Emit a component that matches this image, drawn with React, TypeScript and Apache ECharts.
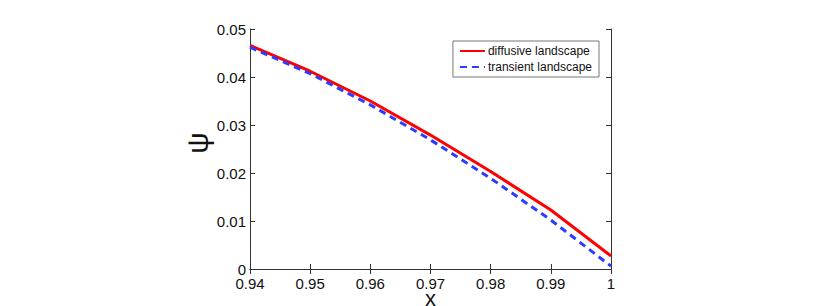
import React, { useEffect, useRef } from "react";
import * as echarts from "echarts";

const xValues = [0.94, 0.95, 0.96, 0.97, 0.98, 0.99, 1.0];
const diffusive = [0.0466, 0.0412, 0.035, 0.0279, 0.0203, 0.0123, 0.0027];
const transient = [0.0462, 0.0407, 0.0342, 0.0269, 0.0189, 0.0102, 0.0006];
const seriesNames = ["diffusive landscape", "transient landscape"];

const FONT = "Liberation Sans";

export default function App() {
  const ref = useRef<HTMLDivElement>(null);
  useEffect(() => {
    if (!ref.current) return;
    const chart = echarts.init(ref.current, null, { renderer: "svg" });
    const axisLine = { show: true, lineStyle: { color: "#333", width: 1 } };
    const tick = { show: true, inside: true, length: 5, lineStyle: { color: "#333" } };
    chart.setOption({
      animation: false,
      backgroundColor: "#fff",
      grid: { left: 250, right: 219, top: 29, bottom: 37, outerBoundsMode: "none", containLabel: false },
      legend: {
        orient: "vertical",
        right: 231,
        top: 41,
        data: seriesNames,
        itemWidth: 25,
        itemHeight: 12,
        itemGap: 4,
        padding: [4, 7, 4, 6],
        borderColor: "#777",
        borderWidth: 1,
        backgroundColor: "#fff",
        itemStyle: { opacity: 0, borderWidth: 0 },
        textStyle: { fontFamily: FONT, fontSize: 12, lineHeight: 12, color: "#111", padding: [0, 0, 0, -2] },
      },
      xAxis: [
        {
          type: "value",
          min: 0.94,
          max: 1,
          interval: 0.01,
          name: "x",
          nameLocation: "middle",
          nameGap: 22,
          nameMoveOverlap: false,
          nameTextStyle: { fontFamily: FONT, fontSize: 22, lineHeight: 14, color: "#111" },
          axisLine,
          axisTick: tick,
          splitLine: { show: false },
          axisLabel: {
            fontFamily: FONT,
            fontSize: 15,
            lineHeight: 14,
            color: "#111",
            margin: 7,
            formatter: (v: number) => String(Number(v.toFixed(2))),
          },
        },
        {
          type: "value",
          position: "top",
          min: 0.94,
          max: 1,
          interval: 0.01,
          axisLine,
          axisTick: tick,
          splitLine: { show: false },
          axisLabel: { show: false },
        },
      ],
      yAxis: [
        {
          type: "value",
          min: 0,
          max: 0.05,
          interval: 0.01,
          name: "ψ",
          nameLocation: "middle",
          nameRotate: 90,
          nameGap: 38,
          nameMoveOverlap: false,
          nameTextStyle: { fontFamily: FONT, fontSize: 30, color: "#111", padding: [0, 0, 0, 12] },
          axisLine,
          axisTick: tick,
          splitLine: { show: false },
          axisLabel: {
            fontFamily: FONT,
            fontSize: 15,
            lineHeight: 12,
            color: "#111",
            margin: 4,
            formatter: (v: number) => (v === 0 ? "0" : v.toFixed(2)),
          },
        },
        {
          type: "value",
          position: "right",
          min: 0,
          max: 0.05,
          interval: 0.01,
          axisLine,
          axisTick: tick,
          splitLine: { show: false },
          axisLabel: { show: false },
        },
      ],
      series: [
        {
          name: seriesNames[0],
          type: "line",
          data: xValues.map((x, i) => [x, diffusive[i]]),
          symbol: "none",
          lineStyle: { color: "#ff0000", width: 3 },
          itemStyle: { color: "#ff0000" },
        },
        {
          name: seriesNames[1],
          type: "line",
          data: xValues.map((x, i) => [x, transient[i]]),
          symbol: "none",
          lineStyle: { color: "#2a3cff", width: 3, type: [7, 5] },
          itemStyle: { color: "#2a3cff" },
        },
      ],
    });
    return () => chart.dispose();
  }, []);
  return <div ref={ref} style={{ width: 830, height: 306, position: "absolute", left: 0, top: 0 }} />;
}
